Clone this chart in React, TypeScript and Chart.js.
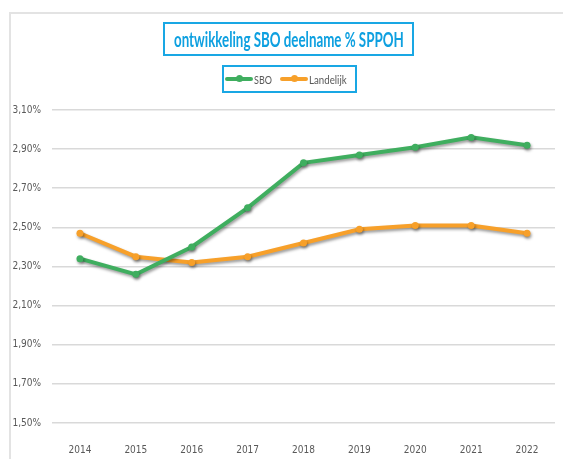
import React, { useEffect, useLayoutEffect, useRef } from "react";
import { Chart, registerables } from "chart.js";

Chart.register(...registerables);

const years = ["2014", "2015", "2016", "2017", "2018", "2019", "2020", "2021", "2022"];
const sboValues = [2.34, 2.26, 2.40, 2.60, 2.83, 2.87, 2.91, 2.96, 2.92];
const landelijkValues = [2.47, 2.35, 2.32, 2.35, 2.42, 2.49, 2.51, 2.51, 2.47];
const yTickValues = [1.5, 1.7, 1.9, 2.1, 2.3, 2.5, 2.7, 2.9, 3.1];

const GREEN = "#3fae5f";
const ORANGE = "#f7a02a";
const BLUE = "#19a7e4";
const FONT = "'DejaVu Sans Condensed', Lato, sans-serif";

const shadowPlugin = {
  id: "lineShadow",
  beforeDatasetsDraw(chart: any) {
    const ctx = chart.ctx;
    ctx.save();
    ctx.shadowColor = "rgba(0,0,0,0.4)";
    ctx.shadowBlur = 3;
    ctx.shadowOffsetX = 1;
    ctx.shadowOffsetY = 2;
  },
  afterDatasetsDraw(chart: any) {
    chart.ctx.restore();
  },
};

function FitText({ text, width, style }: { text: string; width: number; style: any }) {
  const ref = useRef<HTMLSpanElement | null>(null);
  useLayoutEffect(() => {
    const el = ref.current;
    if (!el) return;
    el.style.transform = "none";
    const w = el.offsetWidth;
    if (w > 0) el.style.transform = `scaleX(${width / w})`;
  }, [text, width]);
  return (
    <span ref={ref} style={{ display: "inline-block", transformOrigin: "left center", whiteSpace: "nowrap", ...style }}>
      {text}
    </span>
  );
}

function LegendItem({ color, label, textWidth }: { color: string; label: string; textWidth: number }) {
  return (
    <span style={{ display: "inline-flex", alignItems: "center", marginRight: 8 }}>
      <span style={{ position: "relative", display: "inline-block", width: 28, height: 4, background: color, borderRadius: 2 }}>
        <span
          style={{
            position: "absolute",
            left: 11,
            top: -2,
            width: 7,
            height: 7,
            borderRadius: "50%",
            background: color,
          }}
        />
      </span>
      <span style={{ display: "inline-block", width: textWidth, marginLeft: 1 }}>
        <FitText text={label} width={textWidth} style={{}} />
      </span>
    </span>
  );
}

export default function App() {
  const canvasRef = useRef<HTMLCanvasElement | null>(null);

  useEffect(() => {
    if (!canvasRef.current) return;
    const chart = new Chart(canvasRef.current, {
      type: "line",
      data: {
        labels: years,
        datasets: [
          {
            label: "SBO",
            data: sboValues,
            borderColor: GREEN,
            backgroundColor: GREEN,
            borderWidth: 4,
            pointRadius: 3.5,
            pointBorderWidth: 0,
            pointBackgroundColor: GREEN,
            tension: 0,
          },
          {
            label: "Landelijk",
            data: landelijkValues,
            borderColor: ORANGE,
            backgroundColor: ORANGE,
            borderWidth: 4,
            pointRadius: 3.5,
            pointBorderWidth: 0,
            pointBackgroundColor: ORANGE,
            tension: 0,
          },
        ],
      },
      options: {
        animation: false,
        responsive: false,
        maintainAspectRatio: false,
        layout: { padding: { top: 110, left: 8, right: 8, bottom: 0 } },
        plugins: {
          legend: { display: false },
          title: { display: false },
          tooltip: { enabled: false },
        },
        scales: {
          x: {
            offset: true,
            grid: { display: false },
            border: { display: false },
            ticks: {
              color: "#595959",
              font: { family: FONT, size: 10 },
              padding: 13,
            },
            afterFit(scale: any) {
              scale.height = 36;
            },
          },
          y: {
            min: 1.5,
            max: 3.1,
            afterBuildTicks(scale: any) {
              scale.ticks = yTickValues.map((v) => ({ value: v }));
            },
            grid: { color: "#d9d9d9", lineWidth: 1.5, drawTicks: false },
            border: { display: false },
            ticks: {
              color: "#595959",
              font: { family: FONT, size: 10 },
              padding: 11,
              callback: (v: any) => Number(v).toFixed(2).replace(".", ",") + "%",
            },
            afterFit(scale: any) {
              scale.width = 44;
            },
          },
        },
      },
      plugins: [shadowPlugin],
    });
    return () => chart.destroy();
  }, []);

  return (
    <div style={{ position: "fixed", left: 0, top: 0, width: 563, height: 459, background: "#fff", overflow: "hidden" }}>
      <div style={{ position: "absolute", left: 9, top: 12, width: 554, height: 447, borderTop: "2px solid #e3e3e3", borderLeft: "2px solid #e3e3e3" }} />
      <canvas ref={canvasRef} width={563} height={459} style={{ position: "absolute", left: 0, top: 0 }} />
      <div
        style={{
          position: "absolute",
          left: 163,
          top: 22,
          width: 247,
          height: 30,
          border: `2px solid ${BLUE}`,
        }}
      >
        <div style={{ position: "absolute", left: 9, top: 0, height: 30, lineHeight: "30px" }}>
          <FitText
            text="ontwikkeling SBO deelname % SPPOH"
            width={230}
            style={{ color: "#0ea0e0", fontFamily: "Lato, sans-serif", fontWeight: "bold", fontSize: 20 }}
          />
        </div>
      </div>
      <div
        style={{
          position: "absolute",
          left: 222,
          top: 65,
          width: 131,
          height: 24,
          border: `2px solid ${BLUE}`,
          color: "#595959",
          fontFamily: "Lato, sans-serif",
          fontSize: 12,
          display: "flex",
          alignItems: "center",
          justifyContent: "center",
          whiteSpace: "nowrap",
        }}
      >
        <LegendItem color={GREEN} label="SBO" textWidth={18} />
        <LegendItem color={ORANGE} label="Landelijk" textWidth={38} />
      </div>
    </div>
  );
}
